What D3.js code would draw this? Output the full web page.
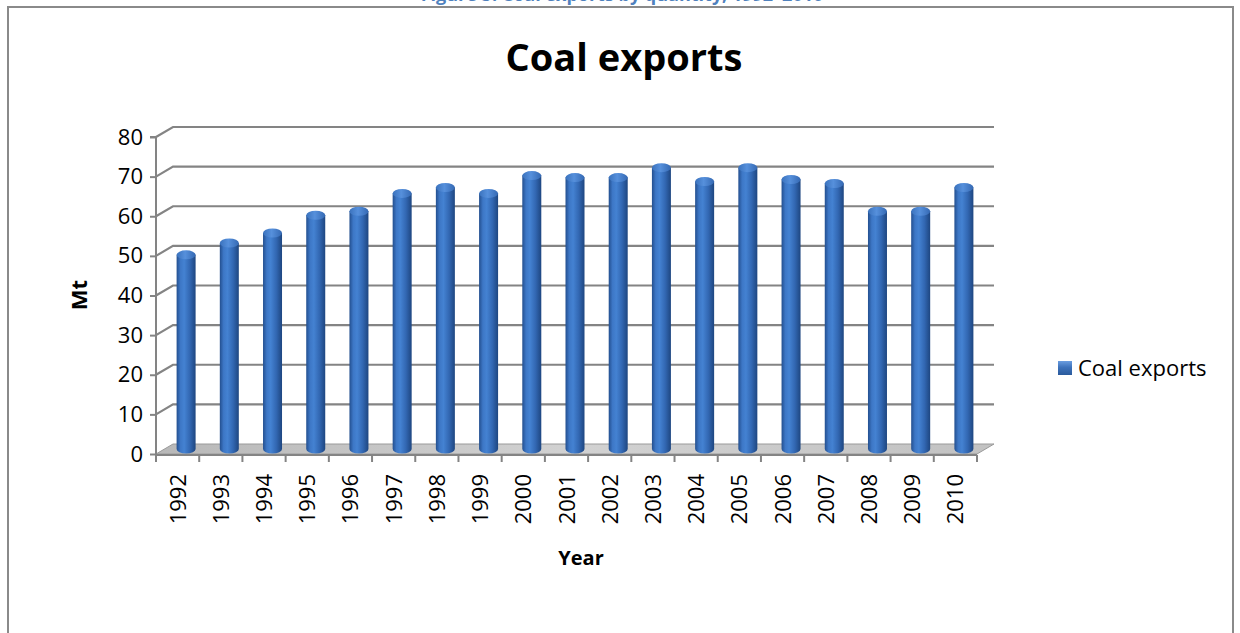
<!DOCTYPE html>
<html>
<head>
<meta charset="utf-8">
<script src="https://cdn.jsdelivr.net/npm/d3@7"></script>
<style>
  html, body { margin: 0; padding: 0; background: #fff; }
  svg { display: block; font-family: "Open Sans", "DejaVu Sans", sans-serif; }
</style>
</head>
<body>
<svg id="chart" width="1240" height="633"></svg>
<script>
const years = ["1992","1993","1994","1995","1996","1997","1998","1999","2000","2001","2002","2003","2004","2005","2006","2007","2008","2009","2010"];
const coalExports = [49, 52, 54.5, 59, 60, 64.5, 66, 64.5, 69, 68.5, 68.5, 71, 67.5, 71, 68, 67, 60, 60, 66];
const yTicks = [0, 10, 20, 30, 40, 50, 60, 70, 80];
const chartTitle = "Coal exports";
const captionText = "Figure 5: Coal exports by quantity, 1992–2010";
const seriesName = "Coal exports";
const yTitle = "Mt";
const xTitle = "Year";

const svg = d3.select("#chart");
const defs = svg.append("defs");

// gradients
const barGrad = defs.append("linearGradient").attr("id", "barGrad").attr("x1", "0").attr("x2", "1").attr("y1", "0").attr("y2", "0");
[["0%", "#234f8f"], ["20%", "#3d77c6"], ["40%", "#4482d2"], ["70%", "#3267b2"], ["100%", "#1e4680"]]
  .forEach(([o, c]) => barGrad.append("stop").attr("offset", o).attr("stop-color", c));
const capGrad = defs.append("linearGradient").attr("id", "capGrad").attr("x1", "0").attr("x2", "1");
[["0%", "#3a72bd"], ["45%", "#5690dc"], ["100%", "#3569b3"]]
  .forEach(([o, c]) => capGrad.append("stop").attr("offset", o).attr("stop-color", c));
const floorGrad = defs.append("linearGradient").attr("id", "floorGrad").attr("x1", "0").attr("x2", "1");
[["0%", "#b8b8b8"], ["50%", "#d2d2d2"], ["100%", "#c2c2c2"]]
  .forEach(([o, c]) => floorGrad.append("stop").attr("offset", o).attr("stop-color", c));
const legGrad = defs.append("linearGradient").attr("id", "legGrad").attr("x1", "0").attr("x2", "0").attr("y1", "0").attr("y2", "1");
[["0%", "#6a9de0"], ["45%", "#3d72bb"], ["100%", "#2a5a9c"]]
  .forEach(([o, c]) => legGrad.append("stop").attr("offset", o).attr("stop-color", c));

// caption (clipped at the top edge, as in the source page)
svg.append("text")
  .attr("x", 622).attr("y", 1)
  .attr("text-anchor", "middle")
  .attr("font-size", 18).attr("font-weight", "bold")
  .attr("fill", "#4f81bd")
  .text(captionText);

// frame
svg.append("rect")
  .attr("x", 8).attr("y", 7).attr("width", 1225).attr("height", 660)
  .attr("fill", "#fff").attr("stroke", "#8a8a8a").attr("stroke-width", 2);

// title
svg.append("text")
  .attr("x", 624).attr("y", 71)
  .attr("text-anchor", "middle")
  .attr("font-size", 38).attr("font-weight", "bold")
  .attr("fill", "#000")
  .text(chartTitle);

// scales
const x = d3.scaleBand().domain(years).range([156, 977]).padding(0);
const y = d3.scaleLinear().domain([0, 80]).range([454, 137]);
const dx = 17, dy = -10;

// floor
const x0 = x.range()[0], x1 = x.range()[1], yb = y(0);
svg.append("path")
  .attr("d", `M${x0},${yb} L${x1},${yb} L${x1 + dx},${yb + dy} L${x0 + dx},${yb + dy} Z`)
  .attr("fill", "url(#floorGrad)").attr("stroke", "#9a9a9a").attr("stroke-width", 1);

// gridlines (side wall diagonal + back wall)
svg.append("g").selectAll("path")
  .data(yTicks.filter(t => t > 0))
  .join("path")
  .attr("d", t => `M${x0},${y(t)} L${x0 + dx},${y(t) + dy} L${x1 + dx},${y(t) + dy}`)
  .attr("fill", "none").attr("stroke", "#848484").attr("stroke-width", 2.2);

// y axis
const yAxis = svg.append("g")
  .attr("transform", `translate(${x0},0)`)
  .call(d3.axisLeft(y).tickValues(yTicks).tickSize(6).tickPadding(7));
yAxis.select(".domain").attr("stroke", "#848484").attr("stroke-width", 2)
  .attr("d", `M-6,${y(80)}H0V${y(0) + 8}`);
yAxis.selectAll(".tick line").attr("stroke", "#848484").attr("stroke-width", 2);
yAxis.selectAll(".tick text").attr("font-size", 22).attr("fill", "#000")
  .attr("font-family", "'Open Sans', sans-serif");

// x axis (ticks between categories)
const xAxisG = svg.append("g").attr("transform", `translate(0,${yb + 1})`);
xAxisG.append("line").attr("x1", x0).attr("x2", x1).attr("y1", 0).attr("y2", 0)
  .attr("stroke", "#848484").attr("stroke-width", 2);
const edges = years.map(d => x(d)).concat([x1]);
xAxisG.selectAll("line.tk").data(edges).join("line").attr("class", "tk")
  .attr("x1", d => d).attr("x2", d => d).attr("y1", 0).attr("y2", 7)
  .attr("stroke", "#848484").attr("stroke-width", 2);
xAxisG.selectAll("text").data(years).join("text")
  .attr("transform", d => `translate(${x(d) + x.bandwidth() / 2 + 8},${19}) rotate(-90)`)
  .attr("text-anchor", "end")
  .attr("font-size", 22).attr("fill", "#000")
  .text(d => d);

// bars as cylinders
const bw = 19, ry = 4.5;
const bars = svg.append("g").selectAll("g").data(years.map((d, i) => ({ year: d, v: coalExports[i] })))
  .join("g")
  .attr("transform", d => `translate(${x(d.year) + x.bandwidth() / 2 + dx / 2},${dy / 2})`);
bars.append("path")
  .attr("d", d => {
    const top = y(d.v), bot = y(0);
    return `M${-bw / 2},${top} L${-bw / 2},${bot} A${bw / 2},${ry} 0 0 0 ${bw / 2},${bot} L${bw / 2},${top} Z`;
  })
  .attr("fill", "url(#barGrad)");
bars.append("ellipse")
  .attr("cx", 0).attr("cy", d => y(d.v))
  .attr("rx", bw / 2).attr("ry", ry)
  .attr("fill", "url(#capGrad)");

// axis titles
svg.append("text")
  .attr("transform", `translate(87,295) rotate(-90)`)
  .attr("text-anchor", "middle")
  .attr("font-size", 22).attr("font-weight", "bold")
  .text(yTitle);
svg.append("text")
  .attr("x", 581).attr("y", 565)
  .attr("text-anchor", "middle")
  .attr("font-size", 20).attr("font-weight", "bold")
  .text(xTitle);

// legend
const leg = svg.append("g").attr("transform", "translate(1058,361)");
leg.append("rect").attr("width", 14).attr("height", 14).attr("fill", "url(#legGrad)");
leg.append("text").attr("x", 20).attr("y", 15).attr("font-size", 22).text(seriesName);
</script>
</body>
</html>
